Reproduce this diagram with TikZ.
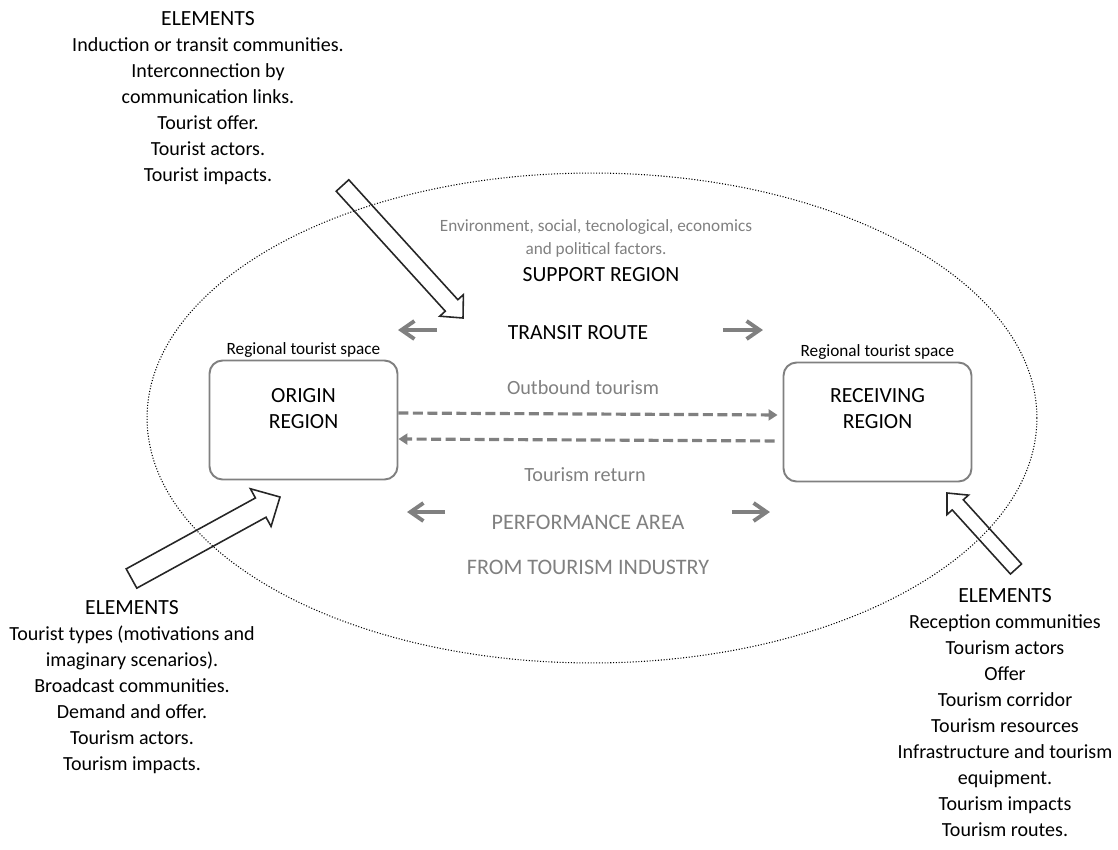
\documentclass[tikz,border=0pt]{standalone}
\usepackage{fontspec}
\setmainfont{Carlito}
\usetikzlibrary{arrows.meta, positioning, calc, shapes.geometric}

% hollow block arrow: tail, tip, half shaft width, half head width, head length
\newcommand{\hollowarrow}[5]{%
  \coordinate (#1-#2) at ($(#2)!#5!(#1)$);
  \draw[blockarrow] ($(#1)!#3!90:(#2)$) -- ($(#1-#2)!#3!90:(#2)$) -- ($(#1-#2)!#4!90:(#2)$)
    -- (#2) -- ($(#1-#2)!#4!-90:(#2)$) -- ($(#1-#2)!#3!-90:(#2)$) -- ($(#1)!#3!-90:(#2)$) -- cycle;
}
\newcommand{\elhead}{{\fontsize{12.3}{14.8}\selectfont ELEMENTS}}

\begin{document}
\begin{tikzpicture}[x=0.02cm, y=-0.02cm,
    txt/.style={align=center, inner sep=0pt, font=\fontsize{11.4}{14.8}\selectfont},
    caps/.style={align=center, inner sep=0pt, font=\fontsize{12.3}{14.8}\selectfont},
    gtxt/.style={align=center, inner sep=0pt, text=black!50, font=\fontsize{11.5}{14.8}\selectfont},
    gcaps/.style={gtxt, font=\fontsize{12.6}{14.8}\selectfont},
    small/.style={inner sep=0pt, font=\fontsize{9.8}{11}\selectfont},
    region/.style={draw=black!50, line width=1.1pt, rounded corners=0.26cm, minimum width=3.76cm, minimum height=2.38cm},
    flow/.style={black!50, line width=1.8pt, dash pattern=on 0.2cm off 0.09cm, -{Triangle[length=0.18cm,width=0.22cm]}},
    side/.style={black!50, line width=2.2pt, -{Straight Barb[length=0.26cm,width=0.36cm]}},
    blockarrow/.style={draw=black!85, line width=0.9pt, line join=miter}]

    \useasboundingbox (0,0) rectangle (1118,849);

    % support region
    \node (support) [ellipse, draw, densely dotted, line width=0.6pt, minimum width=17.8cm, minimum height=9.8cm] at (592,418) {};
    \node[gtxt, font=\fontsize{9.8}{13}\selectfont] (factors) at (596,238) {Environment, social, tecnological, economics\\and political factors.};
    \node[caps] (supportlbl) at (601,275) {SUPPORT REGION};

    % regions
    \node (origin) [region] at (303.5,420) {};
    \node (receiving) [region] at (877.5,422) {};
    \node[caps] (originlbl) at ([yshift=0.23cm]origin.center) {ORIGIN\\REGION};
    \node[caps] (receivinglbl) at ([yshift=0.27cm]receiving.center) {RECEIVING\\REGION};
    \node[small] (originspace) [above=1pt of origin.north] {Regional tourist space};
    \node[small] (receivingspace) [above=1pt of receiving.north] {Regional tourist space};

    % transit route
    \node[caps] (transit) at (578,333) {TRANSIT ROUTE};
    \draw[side] ([xshift=-2.82cm, yshift=0.06cm]transit.center) -- ++(-39,0);
    \draw[side] ([xshift=2.9cm, yshift=0.06cm]transit.center) -- ++(40,0);

    \node[gtxt] (outbound) at (583,388) {Outbound tourism};
    \draw[flow, shorten >=0.1cm] ([yshift=0.14cm]origin.east) -- ([yshift=0.14cm]receiving.west);
    \draw[flow, shorten <=0.16cm] ([yshift=-0.38cm]receiving.west) -- ([yshift=-0.38cm]origin.east);
    \node[gtxt] (return) at (585,475) {Tourism return};

    % performance area
    \node[gcaps] (performance) at (588,522) {PERFORMANCE AREA};
    \draw[side] ([xshift=-2.86cm, yshift=0.2cm]performance.center) -- ++(-38,0);
    \draw[side] ([xshift=2.88cm, yshift=0.2cm]performance.center) -- ++(38,0);
    \node[gcaps] (industry) at (588,567) {FROM TOURISM INDUSTRY};

    % elements
    \node[txt] (transitel) at (208,98.5) {\elhead\\Induction or transit communities.\\Interconnection by\\communication links.\\Tourist offer.\\Tourist actors.\\Tourist impacts.};
    \node[txt] (originel) at (132,687.5) {\elhead\\Tourist types (motivations and\\imaginary scenarios).\\Broadcast communities.\\Demand and offer.\\Tourism actors.\\Tourism impacts.};
    \node[txt] (receivingel) at (1005,712.5) {\elhead\\Reception communities\\Tourism actors\\Offer\\Tourism corridor\\Tourism resources\\Infrastructure and tourism\\equipment.\\Tourism impacts\\Tourism routes.};

    % block arrows
    \coordinate (ttail) at (342.5,185.5);
    \coordinate (ttip) at (463,318);
    \coordinate (otail) at (131.5,578.5);
    \coordinate (otip) at (280,497);
    \coordinate (rtail) at (1016,569);
    \coordinate (rtip) at (947,493);
    \hollowarrow{ttail}{ttip}{0.17cm}{0.32cm}{0.34cm}
    \hollowarrow{otail}{otip}{0.22cm}{0.43cm}{0.44cm}
    \hollowarrow{rtail}{rtip}{0.15cm}{0.29cm}{0.32cm}
\end{tikzpicture}
\end{document}
